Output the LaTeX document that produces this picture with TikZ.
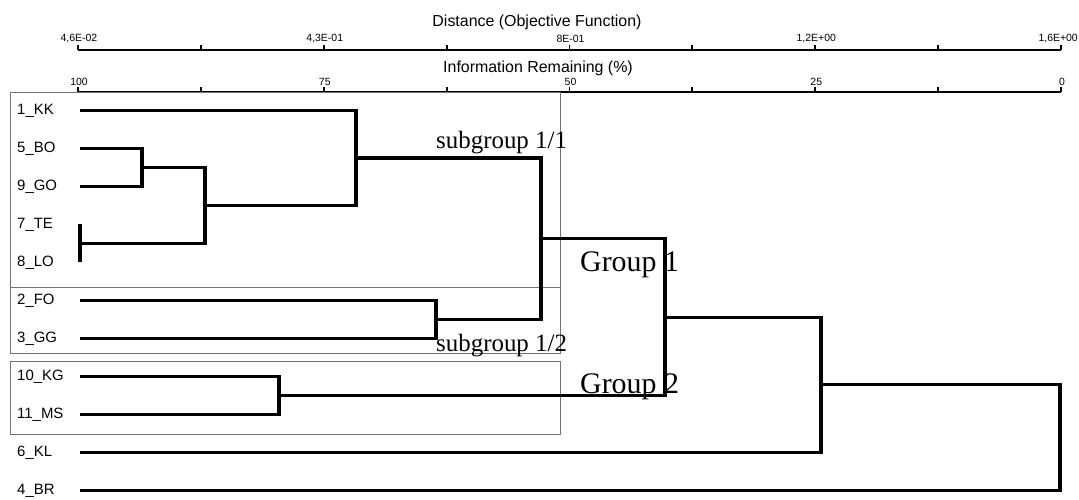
\documentclass[tikz,border=0pt]{standalone}
\usepackage{fontspec}
\setmainfont{Liberation Serif}
\setsansfont{Liberation Sans}
\usepackage{tikz}

\begin{document}
\begin{tikzpicture}[
  x=1bp, y=-1bp,
  leaf/.style={anchor=west, inner sep=0pt, font=\sffamily\fontsize{15}{15}\selectfont},
  ticklab/.style={inner sep=0pt, font=\sffamily\fontsize{10.5}{10.5}\selectfont},
  axtitle/.style={inner sep=0pt, font=\sffamily\fontsize{16}{16}\selectfont},
  branch/.style={line width=3.2pt},
  axisline/.style={line width=2.8pt},
  grpbox/.style={draw=black!55, line width=0.9pt},
  sublab/.style={anchor=base west, inner sep=0pt, font=\fontsize{25}{25}\selectfont},
  grplab/.style={anchor=base west, inner sep=0pt, font=\fontsize{30}{30}\selectfont}
]
\useasboundingbox (0,0) rectangle (1079,500);

% axes
\node[axtitle] (disttitle) at (537,22) {Distance (Objective Function)};
\node[axtitle] (infotitle) at (538,68) {Information Remaining (\%)};
\coordinate (d0) at (78,50);
\coordinate (d1) at (1061,50);
\coordinate (i0) at (78,92);
\coordinate (i1) at (1061,92);
\draw[axisline] (d0) -- (d1);
\draw[axisline] (i0) -- (i1);
\foreach \k in {0,...,8} {
  \draw[line width=1.8pt] ({78+122.875*\k},50) -- ++(0,-4.5);
  \draw[line width=1.8pt] ({78+122.875*\k},92) -- ++(0,-4.5);
}
\foreach \lab/\k in {4{,}6E-02/0, 4{,}3E-01/2, 8E-01/4, 1{,}2E+00/6}
  \node[ticklab] at ({79+122.875*\k},39) {\lab};
\node[ticklab, anchor=east] at (1078,39) {1,6E+00};
\foreach \lab/\k in {100/0, 75/2, 50/4, 25/6, 0/8}
  \node[ticklab] at ({79+122.875*\k},82) {\lab};

% group boxes
\draw[grpbox] (10,92) rectangle (560,287);
\draw[grpbox] (10,287) rectangle (560,353);
\draw[grpbox] (10,361) rectangle (560,434);

% leaves
\foreach \name/\lab [count=\i] in {kk/1\_KK, bo/5\_BO, go/9\_GO, te/7\_TE, lo/8\_LO,
    fo/2\_FO, gg/3\_GG, kg/10\_KG, ms/11\_MS, kl/6\_KL, br/4\_BR} {
  \node[leaf] (t\name) at (17,{110.5+38*(\i-1)}) {\lab};
  \coordinate (\name) at (80,{110.5+38*(\i-1)});
}

% merge points
\coordinate (m1) at (142,167.5);
\coordinate (m2) at (80,243.5);
\coordinate (m3) at (205,205.5);
\coordinate (m4) at (356,158);
\coordinate (m5) at (436,319.5);
\coordinate (m6) at (541,238.75);
\coordinate (m7) at (279,395.5);
\coordinate (m8) at (665,317.1);
\coordinate (m9) at (821,384.8);
\coordinate (m10) at (1060,437.6);

\draw[branch] (bo) -| (m1) |- (go);
\draw[branch] (te) -- (lo);
\draw[branch] (m1) -| (m3) |- (m2);
\draw[branch] (kk) -| (m4) |- (m3);
\draw[branch] (fo) -| (m5) |- (gg);
\draw[branch] (m4) -| (m6) |- (m5);
\draw[branch] (kg) -| (m7) |- (ms);
\draw[branch] (m6) -| (m8) |- (m7);
\draw[branch] (m8) -| (m9) |- (kl);
\draw[branch] (m9) -| (m10) |- (br);

% group labels
\node[sublab] (sub1) at (436,149) {subgroup 1/1};
\node[sublab] (sub2) at (436,352) {subgroup 1/2};
\node[grplab] (grp1) at (580,272) {Group 1};
\node[grplab] (grp2) at (580,393) {Group 2};
\end{tikzpicture}
\end{document}
